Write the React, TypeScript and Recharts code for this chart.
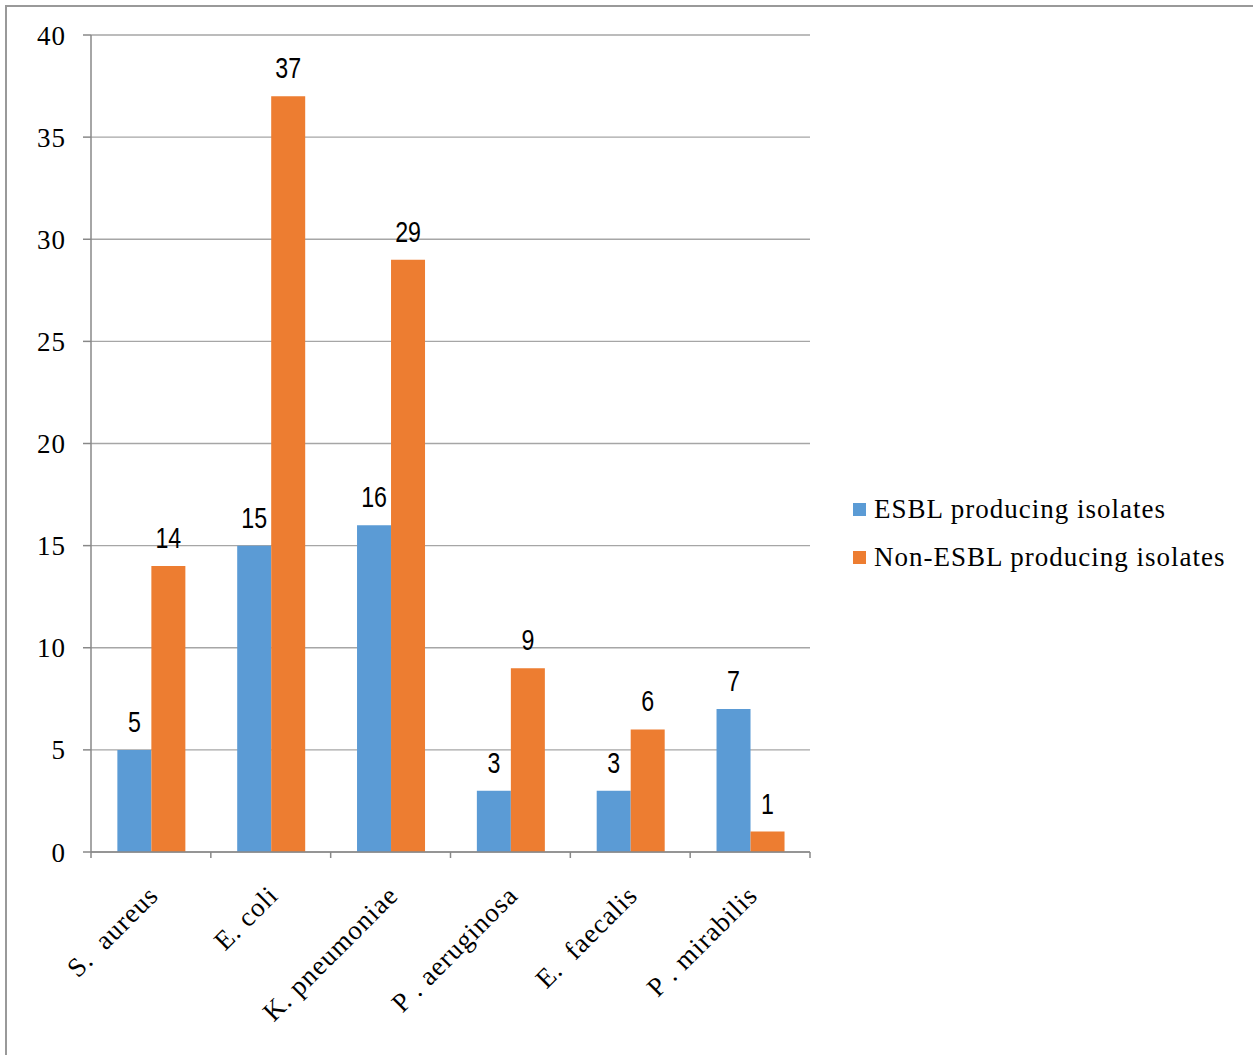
import React from "react";
import { BarChart, Bar, XAxis, YAxis, CartesianGrid, LabelList } from "recharts";

const categories = ["S.  aureus", "E. coli", "K. pneumoniae", "P . aeruginosa", "E.  faecalis", "P . mirabilis"];
const esbl = [5, 15, 16, 3, 3, 7];
const nonEsbl = [14, 37, 29, 9, 6, 1];
const yTicks = [0, 5, 10, 15, 20, 25, 30, 35, 40];
const seriesNames = ["ESBL producing isolates", "Non-ESBL producing isolates"];
const seriesColors = ["#5b9bd5", "#ed7d31"];

const data = categories.map((c, i) => ({ name: c, esbl: esbl[i], nonEsbl: nonEsbl[i] }));

const SERIF = "'Liberation Serif', 'Times New Roman', serif";
const SANS = "'Liberation Sans', Arial, sans-serif";

const XTick = (props: any) => {
  const { x, y, payload, width, index } = props;
  const bw = width / categories.length;
  const left = x - bw / 2;
  const isLast = index === categories.length - 1;
  const ax = x + 9;
  const ay = y + 37;
  return (
    <g>
      <line x1={left} y1={y - 8} x2={left} y2={y - 2} stroke="#888" strokeWidth={1.5} />
      {isLast && <line x1={x + bw / 2} y1={y - 8} x2={x + bw / 2} y2={y - 2} stroke="#888" strokeWidth={1.5} />}
      <text
        x={ax}
        y={ay}
        textAnchor="end"
        transform={`rotate(-45, ${ax}, ${ay})`}
        fontFamily={SERIF}
        fontSize={27}
        letterSpacing={1}
        fill="#000"
        style={{ whiteSpace: "pre" }}
      >
        {payload.value}
      </text>
    </g>
  );
};

const NarrowLabel = (props: any) => {
  const { x, y, width, value } = props;
  const cx = x + width / 2;
  const by = y - 18;
  return (
    <text
      x={0}
      y={0}
      textAnchor="middle"
      transform={`translate(${cx}, ${by}) scale(0.8, 1)`}
      fontFamily={SANS}
      fontSize={29}
      fill="#000"
    >
      {value}
    </text>
  );
};

export default function App() {
  return (
    <div style={{ position: "absolute", left: 0, top: 0, width: 1253, height: 1055, background: "#fff" }}>
      <div
        style={{
          position: "absolute",
          left: 5,
          top: 5,
          right: 0,
          bottom: 0,
          borderTop: "2px solid #999",
          borderLeft: "2px solid #999",
        }}
      />
      <BarChart
        width={1253}
        height={1055}
        data={data}
        margin={{ top: 35, right: 443, left: 0, bottom: 0 }}
        barGap={0}
        barCategoryGap="22%"
        style={{ position: "absolute", left: 0, top: 0 }}
      >
        <CartesianGrid vertical={false} stroke="#a6a6a6" strokeWidth={1.3} />
        <XAxis
          dataKey="name"
          height={203}
          interval={0}
          tickLine={false}
          axisLine={{ stroke: "#888", strokeWidth: 1.5 }}
          tick={<XTick />}
        />
        <YAxis
          width={91}
          domain={[0, 40]}
          ticks={yTicks}
          interval={0}
          tickSize={8}
          tickMargin={17}
          tickLine={{ stroke: "#888", strokeWidth: 1.5 }}
          axisLine={{ stroke: "#888", strokeWidth: 1.5 }}
          tick={{ fontFamily: SERIF, fontSize: 27, fill: "#000", letterSpacing: 1 }}
        />
        <Bar dataKey="esbl" name={seriesNames[0]} fill={seriesColors[0]} isAnimationActive={false}>
          <LabelList dataKey="esbl" content={<NarrowLabel />} />
        </Bar>
        <Bar dataKey="nonEsbl" name={seriesNames[1]} fill={seriesColors[1]} isAnimationActive={false}>
          <LabelList dataKey="nonEsbl" content={<NarrowLabel />} />
        </Bar>
      </BarChart>
      <div style={{ position: "absolute", left: 853, top: 485 }}>
        {seriesNames.map((n, i) => (
          <div key={n} style={{ display: "flex", alignItems: "center", height: 48 }}>
            <span style={{ display: "inline-block", width: 13, height: 13, background: seriesColors[i], marginRight: 8 }} />
            <span style={{ fontFamily: SERIF, fontSize: 27, letterSpacing: 1, color: "#000", whiteSpace: "nowrap" }}>{n}</span>
          </div>
        ))}
      </div>
    </div>
  );
}
